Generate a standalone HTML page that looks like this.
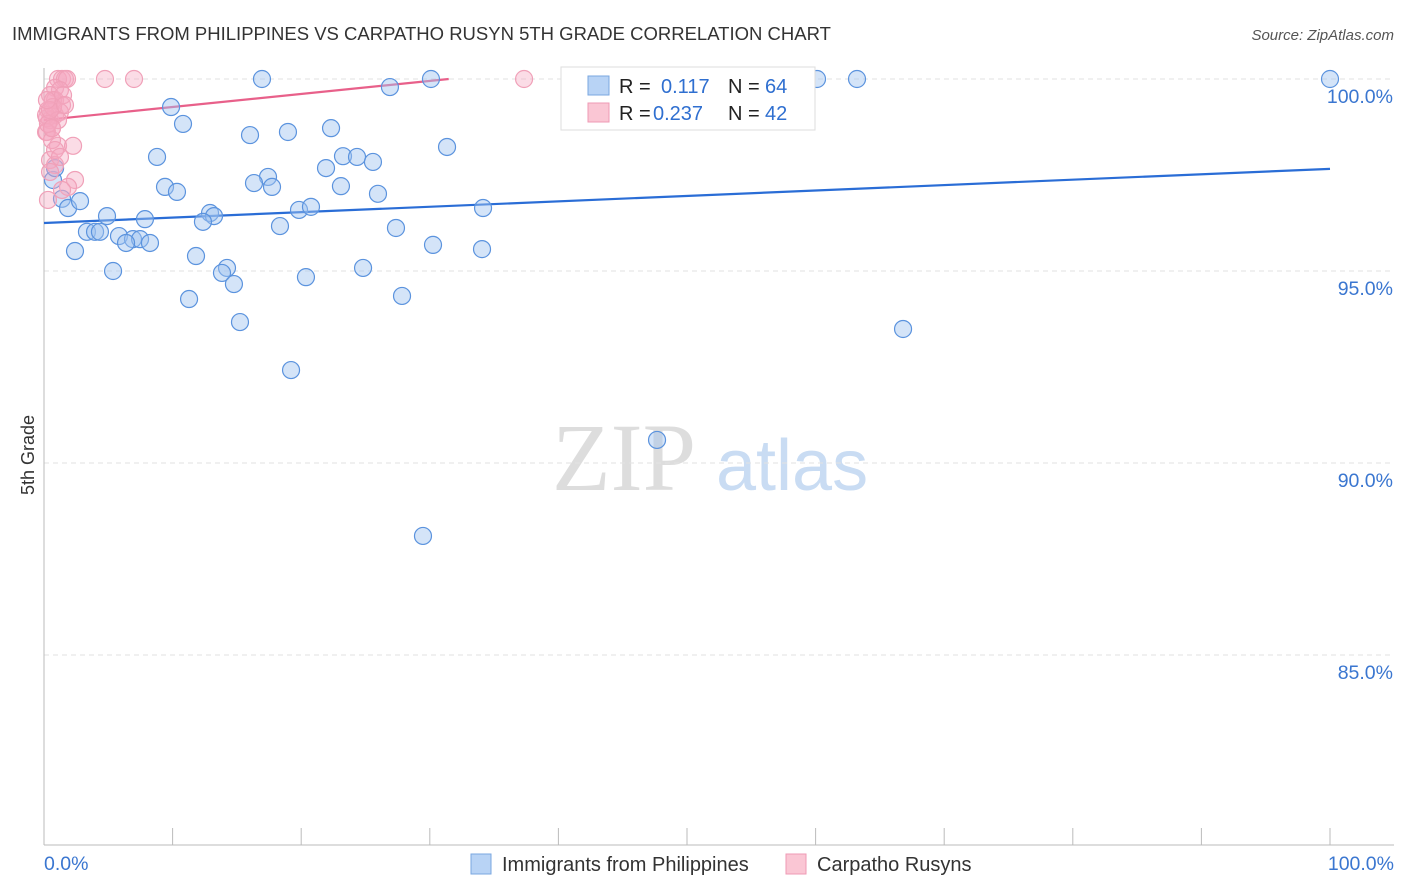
<!DOCTYPE html>
<html><head><meta charset="utf-8"><style>
body{margin:0;background:#fff;font-family:"Liberation Sans",sans-serif;}
svg{display:block}
</style></head><body>
<svg id="chart" width="1406" height="892" xmlns="http://www.w3.org/2000/svg">
<text x="12" y="40" font-size="18.5" fill="#333">IMMIGRANTS FROM PHILIPPINES VS CARPATHO RUSYN 5TH GRADE CORRELATION CHART</text>
<text x="1394" y="40" font-size="15" fill="#555" font-style="italic" text-anchor="end">Source: ZipAtlas.com</text>
<g>
<text x="552" y="490" font-size="96" fill="#ddd" font-family="Liberation Serif,serif">ZIP</text>
<text x="716" y="490" font-size="72" fill="#c9dcf3">atlas</text>
</g>
<g id="grid"></g>
<g id="axes"></g>
<g id="trends"></g>
<g id="points"></g>
<text transform="translate(34,455) rotate(-90)" font-size="18" fill="#333" text-anchor="middle">5th Grade</text>
<g>
<rect x="561" y="67" width="254" height="63" fill="#fff" stroke="#ddd"/>
<rect x="588" y="76" width="21" height="19" fill="#b8d3f5" stroke="#7aa7e0"/>
<rect x="588" y="103" width="21" height="19" fill="#fac6d4" stroke="#ef9ab4"/>
<text x="619" y="93" font-size="20" fill="#222">R = </text><text x="661" y="93" font-size="20" fill="#2f6fd0">0.117</text>
<text x="728" y="93" font-size="20" fill="#222">N = </text><text x="765" y="93" font-size="20" fill="#2f6fd0">64</text>
<text x="619" y="120" font-size="20" fill="#222">R = </text><text x="653" y="120" font-size="20" fill="#2f6fd0">0.237</text>
<text x="728" y="120" font-size="20" fill="#222">N = </text><text x="765" y="120" font-size="20" fill="#2f6fd0">42</text>
</g>
<g>
<rect x="471" y="854" width="20" height="20" fill="#b8d3f5" stroke="#7aa7e0"/>
<text x="502" y="871" font-size="20" fill="#333">Immigrants from Philippines</text>
<rect x="786" y="854" width="20" height="20" fill="#fac6d4" stroke="#ef9ab4"/>
<text x="817" y="871" font-size="20" fill="#333">Carpatho Rusyns</text>
</g>
</svg>
<script>
const blueX=[16.95,30.09,60.11,63.22,100,26.9,9.88,10.81,16.02,18.97,22.32,31.34,8.79,23.25,24.34,25.58,21.93,17.42,16.33,17.73,23.09,9.41,10.34,25.97,0.7,0.86,1.4,1.87,2.8,4.9,7.85,12.91,13.22,12.36,19.83,20.76,18.35,27.37,34.14,3.34,3.97,4.35,5.83,6.92,7.47,6.38,8.24,30.25,34.06,2.41,11.82,14.23,13.84,14.77,5.37,20.37,24.81,11.28,27.84,15.24,66.8,19.21,47.67,29.47];
const blueY=[100,100,100,100,100,99.79,99.27,98.83,98.54,98.62,98.72,98.23,97.97,97.99,97.97,97.84,97.68,97.45,97.29,97.19,97.21,97.19,97.06,97.01,97.37,97.68,96.88,96.64,96.82,96.43,96.35,96.51,96.43,96.28,96.59,96.67,96.17,96.12,96.64,96.02,96.02,96.02,95.91,95.83,95.83,95.73,95.73,95.68,95.57,95.52,95.39,95.08,94.95,94.66,95,94.84,95.08,94.27,94.35,93.67,93.49,92.42,90.6,88.1];
const pinkX=[1.09,1.4,1.63,1.79,4.74,7.0,37.33,0.86,1.24,0.47,0.86,1.4,0.31,0.86,0.47,0.62,0.16,1.09,2.26,0.47,0.86,0.47,2.41,1.87,1.4,0.31,1.24,0.23,0.7,1.48,0.23,0.62,0.16,0.7,1.09,0.31,0.47,0.86,1.24,0.62,1.63,0.23];
const pinkY=[100,100,100,100,100,100,100,99.77,99.71,99.58,99.45,99.32,99.19,99.06,98.93,98.72,98.62,98.26,98.26,97.89,97.76,97.58,97.37,97.19,97.11,96.85,99.14,98.98,99.45,99.58,98.62,98.41,99.06,99.27,98.93,98.83,99.19,98.15,97.97,98.72,99.32,99.45];
const blueTrend=[96.25,97.66];
const pinkTrend=[98.93,0.034];
const yTicks=[100,95,90,85];
const NS="http://www.w3.org/2000/svg";
const X0=44,X1=1330,Y100=79,PPU=38.4;
const sx=v=>X0+(X1-X0)*v/100;
const sy=v=>Y100+(100-v)*PPU;
function mk(t,a,p){const e=document.createElementNS(NS,t);for(const k in a)e.setAttribute(k,a[k]);p.appendChild(e);return e;}
const grid=document.getElementById('grid'),axes=document.getElementById('axes');
yTicks.forEach(v=>{
 const l=mk('line',{x1:44,x2:1394,y1:sy(v),y2:sy(v),stroke:'#e2e2e2','stroke-dasharray':'5,4'},grid);
 
 
 const t=mk('text',{x:1393,y:sy(v)+24,'font-size':19.5,fill:'#3a76d0','text-anchor':'end'},axes);
 t.textContent=v.toFixed(1)+'%';
 
 
});
const ax=mk('line',{x1:44,x2:44,y1:68,y2:845,stroke:'#bbb'},axes);


const bx=mk('line',{x1:44,x2:1394,y1:845,y2:845,stroke:'#bbb'},axes);


for(let i=0;i<=10;i++){
 const tk=mk('line',{x1:sx(i*10),x2:sx(i*10),y1:828,y2:845,stroke:'#bbb'},axes);
 
 
}
[[0,'start','0.0%'],[100,'end','100.0%']].forEach(([v,a,s])=>{
 const t=mk('text',{x:v==0?44:1394,y:870,'font-size':19.5,fill:'#3a76d0','text-anchor':a},axes);
 t.textContent=s;
 
 
});
const tr=document.getElementById('trends');
const bl=mk('line',{x1:sx(0),y1:sy(blueTrend[0]),x2:sx(100),y2:sy(blueTrend[1]),stroke:'#2a6dd6','stroke-width':2.2},tr);


const pEnd=(100-pinkTrend[0])/pinkTrend[1];
const pl=mk('line',{x1:sx(0),y1:sy(pinkTrend[0]),x2:sx(pEnd),y2:sy(100),stroke:'#e8608a','stroke-width':2.2},tr);


const pts=document.getElementById('points');
blueX.forEach((x,i)=>{
 const c=mk('circle',{cx:sx(x),cy:sy(blueY[i]),r:8.5,fill:'rgba(160,196,240,0.45)',stroke:'#5b93de','stroke-width':1.2},pts);
 
 
});
pinkX.forEach((x,i)=>{
 const c=mk('circle',{cx:sx(x),cy:sy(pinkY[i]),r:8.5,fill:'rgba(246,168,192,0.4)',stroke:'#f0a0b8','stroke-width':1.2},pts);
 
 
});
</script>
</body></html>
